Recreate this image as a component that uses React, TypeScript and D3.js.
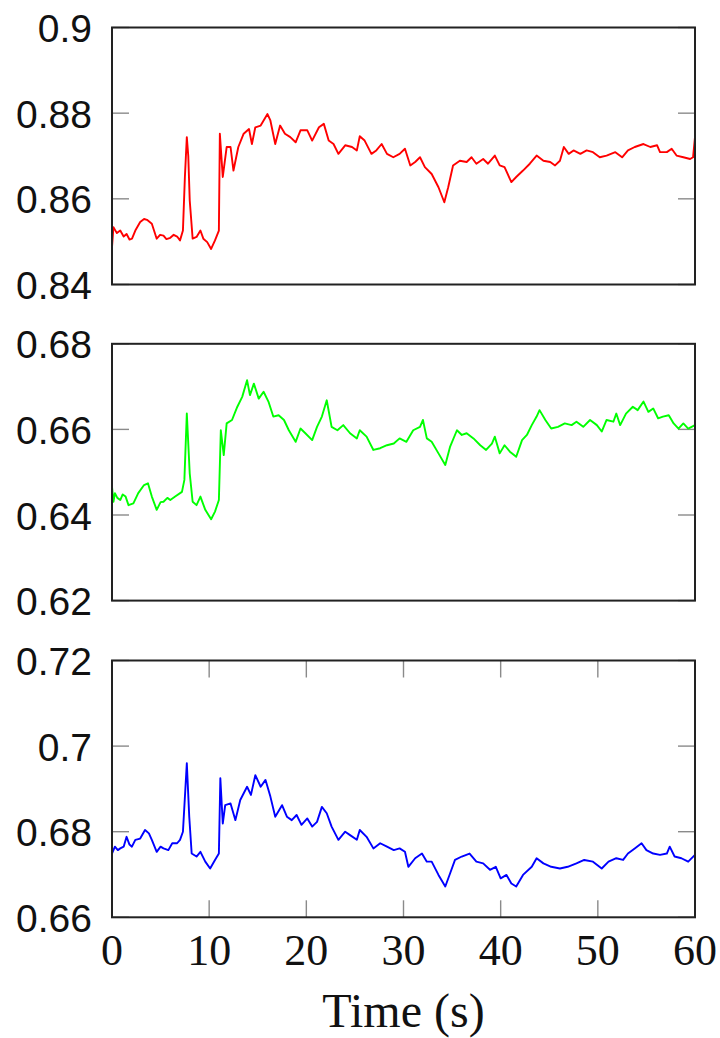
import React from "react";
import * as d3 from "d3";

// ---- data ----
const redT = [0,0.15,0.5,0.85,1.2,1.5,1.8,2.06,2.4,2.9,3.3,3.6,4.1,4.6,4.95,5.3,5.6,6.0,6.35,6.7,7.0,7.3,7.5,7.7,7.85,8.0,8.3,8.7,9.1,9.4,9.8,10.2,10.6,11.0,11.1,11.4,11.8,12.2,12.5,13.0,13.55,14.1,14.4,14.75,15.3,16.0,16.3,16.8,17.3,17.8,18.35,18.9,19.4,20.1,20.6,21.3,21.8,22.3,22.8,23.3,24.0,24.7,25.2,25.5,26.0,26.7,27.2,27.75,28.3,28.95,29.6,30.15,30.7,31.2,31.7,32.2,32.9,33.6,34.2,34.6,35.1,35.8,36.5,37.0,37.5,38.2,38.7,39.4,39.9,40.4,41.1,41.6,42.3,43.0,43.7,44.4,45.1,45.6,46.1,46.5,47.0,47.5,48.2,48.85,49.5,50.2,50.9,51.8,52.5,53.1,53.8,54.7,55.4,56.1,56.4,57.1,57.6,58.1,58.8,59.5,59.8,60.0];
const redV = [0.8487,0.8534,0.8520,0.8526,0.8512,0.8518,0.8505,0.8507,0.8526,0.8546,0.8553,0.8551,0.8542,0.8507,0.8516,0.8514,0.8506,0.8509,0.8516,0.8512,0.8503,0.8526,0.8650,0.8744,0.8700,0.8596,0.8507,0.8511,0.8526,0.8507,0.8499,0.8483,0.8503,0.8526,0.8752,0.8651,0.8721,0.8721,0.8666,0.8721,0.8752,0.8763,0.8728,0.8767,0.8771,0.8798,0.8783,0.8728,0.8771,0.8752,0.8744,0.8732,0.8760,0.8760,0.8736,0.8767,0.8775,0.8736,0.8728,0.8705,0.8725,0.8721,0.8713,0.8746,0.8736,0.8705,0.8713,0.8728,0.8705,0.8697,0.8705,0.8717,0.8678,0.8686,0.8697,0.8674,0.8658,0.8627,0.8592,0.8627,0.8678,0.8689,0.8686,0.8697,0.8682,0.8693,0.8682,0.8701,0.8678,0.8674,0.8639,0.8651,0.8666,0.8682,0.8701,0.8689,0.8686,0.8678,0.8689,0.8721,0.8705,0.8713,0.8705,0.8713,0.8709,0.8697,0.8701,0.8709,0.8697,0.8713,0.8721,0.8728,0.8721,0.8725,0.8709,0.8709,0.8717,0.8701,0.8697,0.8693,0.8697,0.8744];

const greenT = [0,0.15,0.3,0.55,0.85,1.1,1.4,1.7,2.2,2.7,3.3,3.7,4.1,4.6,5.0,5.3,5.7,6.0,6.5,7.2,7.45,7.7,8.0,8.3,8.7,9.1,9.6,10.2,10.6,11.0,11.2,11.5,11.8,12.35,12.9,13.4,13.9,14.2,14.6,15.1,15.6,16.1,16.6,17.15,17.7,18.2,18.9,19.4,19.9,20.6,21.1,21.6,22.1,22.6,23.2,23.8,24.5,25.2,25.5,26.2,26.9,27.6,28.3,29.0,29.6,30.3,31.0,31.7,32.0,32.4,32.9,33.6,34.3,34.8,35.5,36.0,36.5,37.2,37.9,38.5,39.1,39.4,39.9,40.4,40.95,41.6,42.2,42.7,43.2,43.7,44.0,44.6,45.2,45.9,46.6,47.3,47.8,48.5,49.2,49.9,50.4,50.9,51.6,51.9,52.3,52.9,53.6,54.1,54.7,55.2,55.7,56.2,56.7,57.3,57.8,58.3,58.8,59.3,60.0];
const greenV = [0.6466,0.6431,0.6451,0.6440,0.6435,0.6448,0.6443,0.6423,0.6427,0.6451,0.6470,0.6474,0.6443,0.6412,0.6430,0.6431,0.6440,0.6435,0.6443,0.6454,0.6482,0.6637,0.6497,0.6431,0.6423,0.6443,0.6412,0.6390,0.6408,0.6435,0.6598,0.6540,0.6614,0.6622,0.6653,0.6676,0.6715,0.6680,0.6707,0.6672,0.6688,0.6665,0.6630,0.6633,0.6622,0.6598,0.6571,0.6602,0.6591,0.6575,0.6606,0.6630,0.6668,0.6606,0.6598,0.6610,0.6591,0.6579,0.6598,0.6583,0.6552,0.6556,0.6563,0.6567,0.6579,0.6571,0.6598,0.6606,0.6622,0.6579,0.6571,0.6544,0.6517,0.6560,0.6598,0.6587,0.6591,0.6579,0.6563,0.6552,0.6567,0.6583,0.6544,0.6563,0.6548,0.6536,0.6575,0.6587,0.6610,0.6630,0.6645,0.6622,0.6602,0.6606,0.6614,0.6610,0.6618,0.6606,0.6622,0.6610,0.6595,0.6622,0.6618,0.6637,0.6610,0.6637,0.6653,0.6645,0.6665,0.6641,0.6649,0.6626,0.6630,0.6633,0.6614,0.6602,0.6614,0.6602,0.6610];

const blueT = [0,0.3,0.6,0.85,1.2,1.5,1.8,2.05,2.4,2.9,3.4,3.8,4.1,4.6,5.0,5.3,5.8,6.2,6.7,7.0,7.3,7.7,7.95,8.2,8.7,9.1,9.6,10.1,10.6,11.0,11.15,11.4,11.65,12.2,12.7,13.2,13.9,14.3,14.75,15.3,15.8,16.3,16.8,17.5,18.0,18.5,19.0,19.5,20.1,20.6,21.1,21.6,22.1,22.6,23.3,24.0,24.5,25.2,25.5,26.2,26.9,27.6,28.3,29.0,29.6,30.15,30.5,31.2,31.9,32.4,32.9,33.6,34.3,34.8,35.3,36.0,36.8,37.5,38.2,38.9,39.5,40.0,40.6,41.1,41.6,42.3,43.2,43.7,44.4,45.2,46.1,46.9,47.8,48.6,49.5,50.4,51.1,51.9,52.6,53.1,53.8,54.5,55.0,55.7,56.4,57.1,57.4,57.9,58.6,59.3,60.0];
const blueV = [0.6749,0.6765,0.6757,0.6761,0.6765,0.6788,0.6770,0.6765,0.6781,0.6784,0.6804,0.6796,0.6781,0.6753,0.6765,0.6761,0.6757,0.6773,0.6773,0.6781,0.6800,0.6960,0.6835,0.6749,0.6742,0.6753,0.6730,0.6714,0.6734,0.6749,0.6925,0.6819,0.6862,0.6866,0.6827,0.6874,0.6905,0.6886,0.6932,0.6905,0.6921,0.6882,0.6835,0.6862,0.6835,0.6827,0.6839,0.6816,0.6831,0.6812,0.6823,0.6858,0.6843,0.6812,0.6781,0.6800,0.6792,0.6781,0.6804,0.6788,0.6761,0.6773,0.6765,0.6757,0.6761,0.6753,0.6718,0.6738,0.6749,0.6730,0.6730,0.6699,0.6672,0.6703,0.6734,0.6742,0.6749,0.6730,0.6726,0.6711,0.6718,0.6691,0.6699,0.6679,0.6672,0.6699,0.6718,0.6738,0.6726,0.6718,0.6714,0.6718,0.6726,0.6734,0.6730,0.6714,0.6730,0.6738,0.6734,0.6749,0.6761,0.6773,0.6757,0.6749,0.6746,0.6749,0.6765,0.6742,0.6738,0.6730,0.6746];

const xTicks = [0, 10, 20, 30, 40, 50, 60];
const redYTicks = [0.84, 0.86, 0.88, 0.9];
const greenYTicks = [0.62, 0.64, 0.66, 0.68];
const blueYTicks = [0.66, 0.68, 0.7, 0.72];
const xLabel = "Time (s)";

const W = 720;
const H = 1038;
const L = 112;
const R = 695;
const TICK = 17;

const panels = [
  { t: redT, v: redV, yTicks: redYTicks, dom: [0.84, 0.9], top: 27.5, bottom: 284.5, color: "#ff0000", xTicks: false },
  { t: greenT, v: greenV, yTicks: greenYTicks, dom: [0.62, 0.68], top: 343.8, bottom: 600.6, color: "#00ff00", xTicks: false },
  { t: blueT, v: blueV, yTicks: blueYTicks, dom: [0.66, 0.72], top: 660.5, bottom: 917.3, color: "#0000ff", xTicks: true },
];

const fmt = (d: number) => String(+d.toFixed(2));

export default function App() {
  const x = d3.scaleLinear().domain([0, 60]).range([L, R]);
  return (
    <svg width={W} height={H} style={{ position: "absolute", left: 0, top: 0, background: "#fff" }}>
      <rect x={0} y={0} width={W} height={H} fill="#fff" />
      {panels.map((p, i) => {
        const y = d3.scaleLinear().domain(p.dom).range([p.bottom, p.top]);
        const pts = p.t.map((t, k) => [t, p.v[k]] as [number, number]);
        const line = d3.line<[number, number]>().x((d) => x(d[0])).y((d) => y(d[1]));
        return (
          <g key={i}>
            {p.yTicks.map((tv) => (
              <g key={"y" + tv}>
                <line x1={L} x2={L + TICK} y1={y(tv)} y2={y(tv)} stroke="#8a8a8a" strokeWidth={1.4} />
                <line x1={R - TICK} x2={R} y1={y(tv)} y2={y(tv)} stroke="#8a8a8a" strokeWidth={1.4} />
                <text x={92} y={y(tv) + 14.5} textAnchor="end" fontFamily="'Liberation Sans', Arial, sans-serif" fontSize={39} fill="#111">
                  {fmt(tv)}
                </text>
              </g>
            ))}
            {p.xTicks &&
              xTicks.map((tv) => (
                <g key={"x" + tv}>
                  <line x1={x(tv)} x2={x(tv)} y1={p.top} y2={p.top + TICK} stroke="#8a8a8a" strokeWidth={1.4} />
                  <line x1={x(tv)} x2={x(tv)} y1={p.bottom - TICK} y2={p.bottom} stroke="#8a8a8a" strokeWidth={1.4} />
                  <text x={x(tv)} y={965} textAnchor="middle" fontFamily="'Liberation Serif', 'Times New Roman', serif" fontSize={44} fill="#111">
                    {tv}
                  </text>
                </g>
              ))}
            <path d={line(pts) || ""} fill="none" stroke={p.color} strokeWidth={1.9} strokeLinejoin="round" />
            <rect x={L} y={p.top} width={R - L} height={p.bottom - p.top} fill="none" stroke="#222" strokeWidth={2} />
          </g>
        );
      })}
      <text x={(L + R) / 2} y={1027} textAnchor="middle" fontFamily="'Liberation Serif', 'Times New Roman', serif" fontSize={48} fill="#111">
        {xLabel}
      </text>
    </svg>
  );
}
